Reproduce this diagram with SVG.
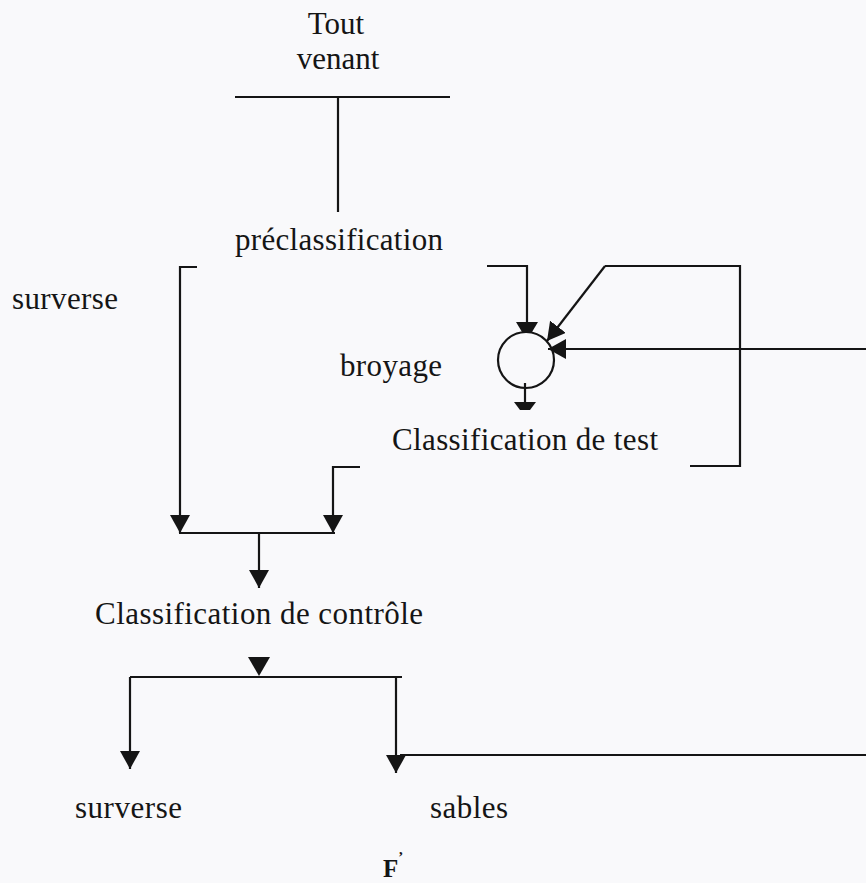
<svg xmlns="http://www.w3.org/2000/svg" width="866" height="883" viewBox="0 0 866 883">
  <defs>
    <style>
      .lbl { font-family: "Liberation Serif", "Times New Roman", serif; font-size: 31px; fill: #151515; }
      .mid { text-anchor: middle; }
      .ttl { font-family: "Liberation Serif", "Times New Roman", serif; font-size: 25px; font-weight: bold; fill: #151515; }
      .ln { fill: none; stroke: #151515; stroke-width: 2.2; }
      .hd { fill: #151515; stroke: none; }
    </style>
    <marker id="arrow" viewBox="0 0 18 20" refX="18" refY="10" markerWidth="18" markerHeight="20" markerUnits="userSpaceOnUse" orient="auto">
      <path d="M0,0 L18,10 L0,20 z" class="hd"/>
    </marker>
  </defs>

  <rect width="866" height="883" fill="#f9f9fb"/>

  <!-- feed -->
  <g id="tout-venant">
    <text class="lbl mid" x="336" y="34" font-size="29">Tout</text>
    <text class="lbl mid" x="338" y="69" font-size="29">venant</text>
  </g>

  <g id="preclassification">
    <text class="lbl" x="235" y="250" textLength="208">préclassification</text>
  </g>

  <g id="surverse-1">
    <text class="lbl" x="12" y="309" textLength="106">surverse</text>
  </g>

  <g id="broyage">
    <text class="lbl" x="340" y="376" textLength="102">broyage</text>
    <circle cx="526" cy="360" r="28" class="ln"/>
  </g>

  <g id="classification-test">
    <text class="lbl" x="392" y="450" textLength="266">Classification de test</text>
  </g>

  <g id="classification-controle">
    <text class="lbl" x="95" y="624" textLength="328">Classification de contrôle</text>
  </g>

  <g id="surverse-2">
    <text class="lbl" x="75" y="818" textLength="107">surverse</text>
  </g>

  <g id="sables">
    <text class="lbl" x="430" y="818" textLength="78">sables</text>
  </g>

  <g id="titre">
    <text class="ttl" x="383" y="877">F<tspan font-size="15" dy="-15">’</tspan></text>
  </g>

  <g id="connectors">
    <!-- feed line -->
    <line class="ln" x1="235" y1="97" x2="450" y2="97"/>
    <line class="ln" x1="338" y1="97" x2="338" y2="212"/>

    <!-- overflow of pre-classification -->
    <polyline class="ln" points="197,267 180,267 180,533" marker-end="url(#arrow)"/>

    <!-- underflow to the mill -->
    <polyline class="ln" points="487,266 527,266 527,324"/>
    <polygon class="hd" points="516,322 538,322 532,332 522,332"/>

    <!-- recycle from the test classifier -->
    <polyline class="ln" points="690,466 740,466 740,266 605,266"/>
    <line class="ln" x1="605" y1="266" x2="547" y2="341" marker-end="url(#arrow)"/>

    <!-- return from sands -->
    <line class="ln" x1="866" y1="349" x2="548" y2="349" marker-end="url(#arrow)"/>

    <!-- mill discharge -->
    <line class="ln" x1="525" y1="383" x2="525" y2="403"/>
    <polygon class="hd" points="514,402 536,402 530,410 520,410"/>

    <!-- test classifier overflow -->
    <polyline class="ln" points="360,467 333,467 333,533" marker-end="url(#arrow)"/>

    <!-- merge to control classification -->
    <line class="ln" x1="179" y1="533" x2="335" y2="533"/>
    <line class="ln" x1="259" y1="533" x2="259" y2="588" marker-end="url(#arrow)"/>

    <!-- control classification split -->
    <polygon class="hd" points="248,657 270,657 259,676"/>
    <line class="ln" x1="130" y1="677" x2="402" y2="677"/>
    <line class="ln" x1="130" y1="677" x2="130" y2="769" marker-end="url(#arrow)"/>
    <line class="ln" x1="396" y1="677" x2="396" y2="773" marker-end="url(#arrow)"/>
    <line class="ln" x1="400" y1="755" x2="866" y2="755"/>
  </g>
</svg>
